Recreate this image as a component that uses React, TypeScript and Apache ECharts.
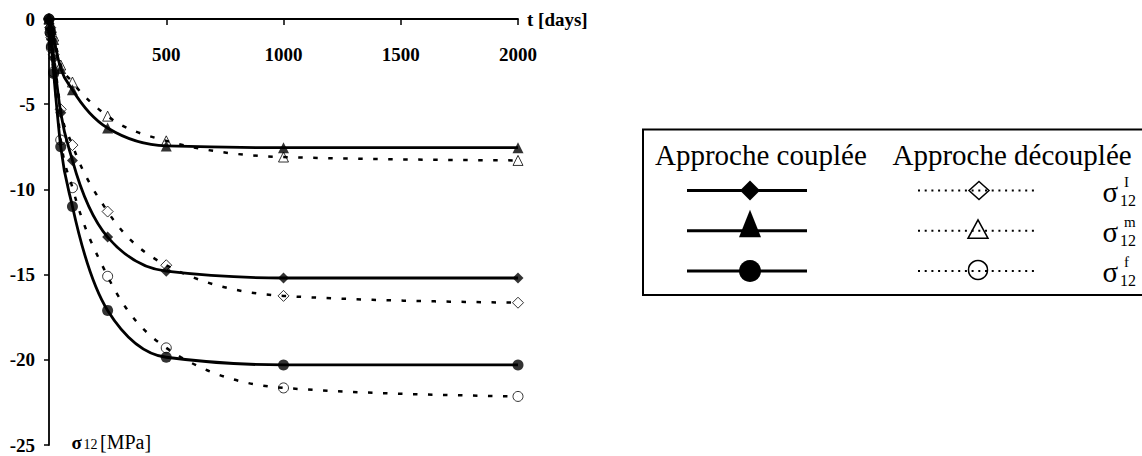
import React, { useEffect, useRef } from "react";
import * as echarts from "echarts";

// ---- data ----
const times = [0, 5, 10, 20, 50, 100, 250, 500, 1000, 2000];
const xTicks = [500, 1000, 1500, 2000];
const yTicks = [0, -5, -10, -15, -20, -25];

// coupled approach (solid, filled markers)
const sigI_coupled = [0, -0.6, -1.2, -2.3, -5.5, -8.3, -12.8, -14.8, -15.2, -15.2];
const sigM_coupled = [0, -0.3, -0.6, -1.2, -2.9, -4.15, -6.4, -7.45, -7.55, -7.55];
const sigF_coupled = [0, -0.8, -1.6, -3.2, -7.5, -11.0, -17.1, -19.85, -20.3, -20.3];
// uncoupled approach (dashed, open markers)
const sigI_uncoupled = [0, -0.5, -1.1, -2.1, -5.3, -7.4, -11.3, -14.45, -16.25, -16.65];
const sigM_uncoupled = [0, -0.25, -0.5, -1.0, -2.7, -3.7, -5.7, -7.15, -8.1, -8.3];
const sigF_uncoupled = [0, -0.8, -1.7, -3.1, -7.1, -9.9, -15.1, -19.3, -21.65, -22.15];

const legendHeaders = ["Approche couplée", "Approche découplée"];
const legendSup = ["I", "m", "f"];
const legendSub = "12";

const FONT = "Liberation Serif";

function pairs(vals: number[]) {
  return times.map((t, i) => [t, vals[i]]);
}

// monotone cubic (as d3.curveMonotoneX) through pixel points
function monotonePath(pts: number[][]): string {
  const n = pts.length;
  if (n < 2) return "";
  const sign = (v: number) => (v < 0 ? -1 : 1);
  const h: number[] = [];
  const d: number[] = [];
  for (let i = 0; i < n - 1; i++) {
    const hi = pts[i + 1][0] - pts[i][0];
    h.push(hi);
    d.push(hi !== 0 ? (pts[i + 1][1] - pts[i][1]) / hi : 0);
  }
  const m: number[] = new Array(n).fill(0);
  for (let i = 1; i < n - 1; i++) {
    const h0 = h[i - 1], h1 = h[i], s0 = d[i - 1], s1 = d[i];
    const p = (s0 * h1 + s1 * h0) / (h0 + h1);
    m[i] = (sign(s0) + sign(s1)) * Math.min(Math.abs(s0), Math.abs(s1), 0.5 * Math.abs(p)) || 0;
  }
  m[0] = h[0] ? (3 * d[0] - m[1]) / 2 : 0;
  m[n - 1] = h[n - 2] ? (3 * d[n - 2] - m[n - 2]) / 2 : 0;
  if (n === 2) {
    m[0] = d[0];
    m[1] = d[0];
  }
  let s = `M${pts[0][0]},${pts[0][1]}`;
  for (let i = 0; i < n - 1; i++) {
    const dx = h[i] / 3;
    const x0 = pts[i][0], y0 = pts[i][1], x1 = pts[i + 1][0], y1 = pts[i + 1][1];
    s += `C${x0 + dx},${y0 + dx * m[i]},${x1 - dx},${y1 - dx * m[i + 1]},${x1},${y1}`;
  }
  return s;
}

function curveSeries(vals: number[], width: number, dash: number[] | null) {
  const data = pairs(vals);
  return {
    type: "custom",
    coordinateSystem: "cartesian2d",
    data: [[0, 0]],
    encode: { x: 0, y: 1 },
    silent: true,
    z: 2,
    renderItem: (_params: any, api: any) => {
      const pts = data.map((p) => api.coord(p));
      const style: any = { fill: "none", stroke: "#000", lineWidth: width };
      if (dash) style.lineDash = dash;
      return { type: "path", shape: { pathData: monotonePath(pts) }, style };
    },
  };
}

function markerSeries(vals: number[], symbol: string, size: number, filled: boolean) {
  return {
    type: "scatter",
    data: pairs(vals),
    symbol,
    symbolSize: size,
    silent: true,
    z: filled ? 5 : 4,
    itemStyle: filled
      ? { color: "#000" }
      : { color: "rgba(255,255,255,0)", borderColor: "#000", borderWidth: 1 },
  };
}

function txt(x: number, y: number, text: string, font: string) {
  return {
    type: "text",
    x,
    y,
    style: { text, font, fill: "#000", verticalAlign: "middle", align: "left" },
  };
}

function buildLegend() {
  const els: any[] = [];
  els.push({
    type: "rect",
    shape: { x: 643, y: 129.5, width: 600, height: 165.5 },
    style: { fill: "none", stroke: "#000", lineWidth: 2 },
  });
  els.push(txt(655, 155.2, legendHeaders[0], `29px ${FONT}`));
  els.push(txt(892.5, 154.5, legendHeaders[1], `29px ${FONT}`));
  const rows = [190.5, 230.8, 271];
  rows.forEach((ry, i) => {
    els.push({
      type: "line",
      shape: { x1: 687, y1: ry, x2: 807, y2: ry },
      style: { stroke: "#000", lineWidth: 3 },
    });
    els.push({
      type: "line",
      shape: { x1: 918, y1: ry, x2: 1034, y2: ry },
      style: { stroke: "#000", lineWidth: 2, lineDash: [2, 4.7] },
    });
    const cx = 750;
    const ox = 979;
    if (i === 0) {
      els.push({
        type: "polygon",
        shape: { points: [[cx, ry - 10], [cx + 10, ry], [cx, ry + 10], [cx - 10, ry]] },
        style: { fill: "#000" },
      });
      els.push({
        type: "polygon",
        shape: { points: [[ox, ry - 9], [ox + 10, ry], [ox, ry + 9], [ox - 10, ry]] },
        style: { fill: "none", stroke: "#000", lineWidth: 1.5 },
      });
    } else if (i === 1) {
      els.push({
        type: "polygon",
        shape: { points: [[cx, ry - 21], [cx + 11, ry + 6.5], [cx - 11, ry + 6.5]] },
        style: { fill: "#000" },
      });
      els.push({
        type: "polygon",
        shape: { points: [[ox - 1, ry - 11], [ox + 9, ry + 7.5], [ox - 11, ry + 7.5]] },
        style: { fill: "none", stroke: "#000", lineWidth: 1.5 },
      });
    } else {
      els.push({ type: "circle", shape: { cx, cy: ry, r: 11 }, style: { fill: "#000" } });
      els.push({
        type: "circle",
        shape: { cx: ox - 1, cy: ry - 1, r: 9.5 },
        style: { fill: "none", stroke: "#000", lineWidth: 1.5 },
      });
    }
    els.push(txt(1102.5, ry + 1.4, "σ", `29px ${FONT}`));
    els.push(txt(1124, ry - 9, legendSup[i], `15px ${FONT}`));
    els.push(txt(1120, ry + 9.5, legendSub, `16px ${FONT}`));
  });
  // y-axis name
  els.push(txt(71.5, 442.6, "σ", `bold 19px ${FONT}`));
  els.push(txt(83.5, 444.3, "12", `14px ${FONT}`));
  els.push(txt(100, 442.3, "[MPa]", `20px ${FONT}`));
  return els;
}

const axisText = {
  fontFamily: FONT,
  fontWeight: "bold" as const,
  fontSize: 19,
  color: "#000",
};

export default function App() {
  const ref = useRef<HTMLDivElement>(null);
  useEffect(() => {
    if (!ref.current) return;
    const chart = echarts.init(ref.current, undefined, { renderer: "svg" });
    chart.setOption({
      animation: false,
      backgroundColor: "#fff",
      textStyle: { fontFamily: FONT },
      grid: { left: 49, top: 19, width: 469, height: 426 },
      xAxis: {
        type: "value",
        position: "top",
        min: 0,
        max: 2000,
        interval: 500,
        name: "t [days]",
        nameLocation: "end",
        nameGap: 9,
        nameTextStyle: {
          ...axisText,
          verticalAlign: "middle",
          padding: [5, 0, 0, 0],
        },
        axisLine: { onZero: false, lineStyle: { color: "#000", width: 1.8 } },
        axisTick: {
          inside: true,
          length: 6,
          lineStyle: { color: "#000", width: 1.5 },
          customValues: xTicks,
        },
        axisLabel: {
          ...axisText,
          inside: true,
          margin: 35,
          verticalAlign: "middle",
          customValues: xTicks,
          formatter: (v: number) => String(v),
        },
        splitLine: { show: false },
      },
      yAxis: {
        type: "value",
        min: -25,
        max: 0,
        interval: 5,
        axisLine: { show: true, lineStyle: { color: "#000", width: 1.8 } },
        axisTick: { show: true, length: 5, lineStyle: { color: "#000", width: 1.5 }, customValues: yTicks },
        axisLabel: {
          ...axisText,
          margin: 14,
          padding: [6, 0, 0, 0],
          customValues: yTicks,
          formatter: (v: number) => String(v),
        },
        splitLine: { show: false },
      },
      series: [
        curveSeries(sigI_uncoupled, 2.5, [4.5, 10.5]),
        curveSeries(sigM_uncoupled, 2.5, [4.5, 10.5]),
        curveSeries(sigF_uncoupled, 2.5, [4.5, 10.5]),
        curveSeries(sigI_coupled, 2.8, null),
        curveSeries(sigM_coupled, 2.8, null),
        curveSeries(sigF_coupled, 2.8, null),
        markerSeries(sigI_uncoupled, "diamond", 11, false),
        markerSeries(sigM_uncoupled, "triangle", 10, false),
        markerSeries(sigF_uncoupled, "circle", 10, false),
        markerSeries(sigI_coupled, "diamond", 11, true),
        markerSeries(sigM_coupled, "triangle", 11, true),
        markerSeries(sigF_coupled, "circle", 11, true),
      ],
      graphic: buildLegend(),
    });
    return () => chart.dispose();
  }, []);
  return (
    <div
      ref={ref}
      style={{ position: "absolute", left: 0, top: 0, width: 1142, height: 456 }}
    />
  );
}
